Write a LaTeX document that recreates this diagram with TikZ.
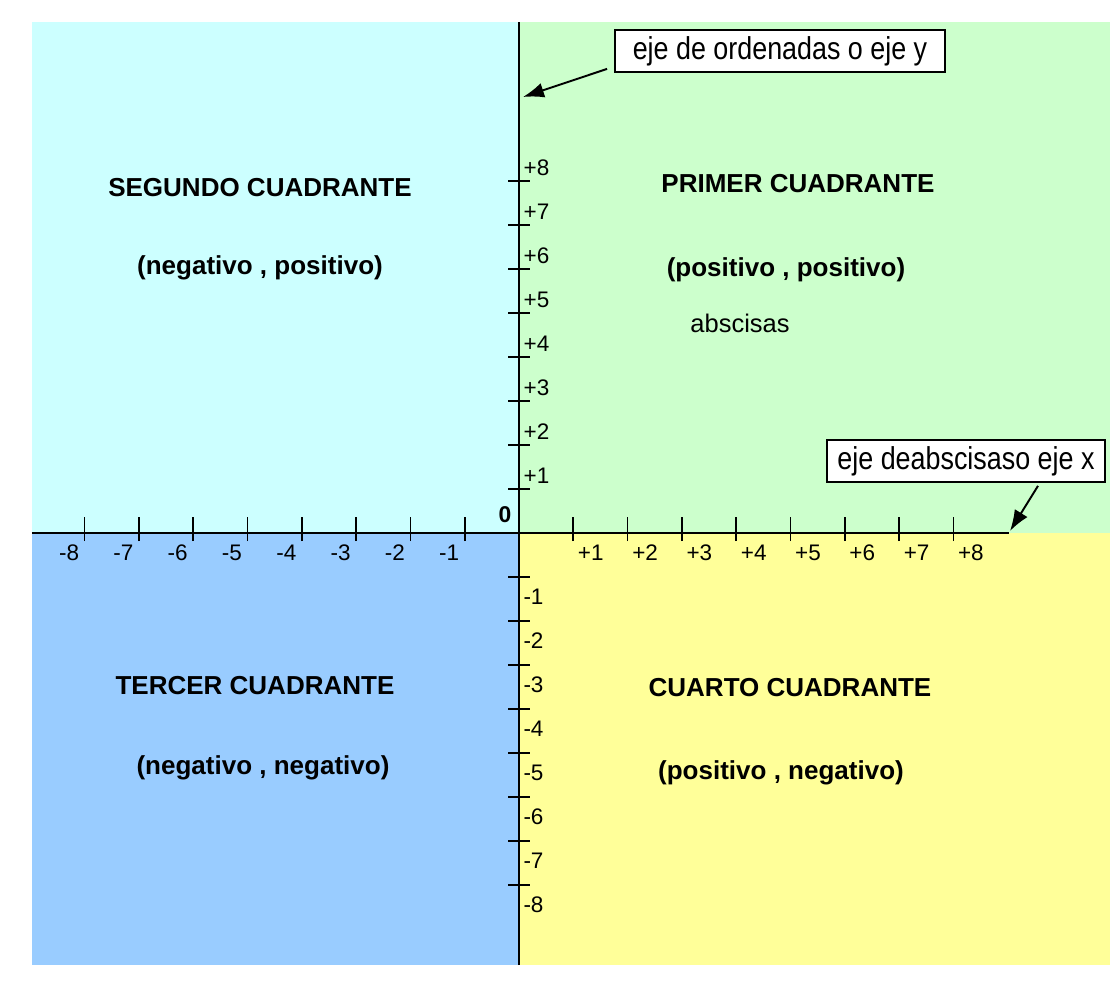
\documentclass[tikz,border=0pt]{standalone}
\usepackage{fontspec}
\setmainfont{Liberation Sans}
\newfontfamily\calloutfont[FakeStretch=0.85]{Liberation Sans}
\usetikzlibrary{arrows.meta}

\definecolor{cuadI}{HTML}{CCFFCC}
\definecolor{cuadII}{HTML}{CCFFFF}
\definecolor{cuadIII}{HTML}{99CCFF}
\definecolor{cuadIV}{HTML}{FFFF99}

\tikzset{
  axisline/.style={line width=1.1pt},
  tickmark/.style={line width=1pt},
  ticklabel/.style={inner sep=0pt, font=\fontsize{12.8}{13}\selectfont},
  quadtitle/.style={inner sep=0pt, font=\fontsize{14.8}{16}\selectfont\bfseries},
  callout/.style={draw, line width=1pt, fill=white, minimum height=0.84cm,
    inner sep=0pt, font=\calloutfont\fontsize{18}{18}\selectfont},
  pointer/.style={line width=1.1pt, -{Latex[length=0.42cm,width=0.3cm]}},
}

\begin{document}
\begin{tikzpicture}
\fill[white] (-10.38,-9.02) rectangle (11.94,10.66);
\useasboundingbox (-10.38,-9.02) rectangle (11.94,10.66);

% quadrants
\fill[cuadII]  (-9.74,0) rectangle (0,10.22);
\fill[cuadI]   (0,0) rectangle (11.82,10.22);
\fill[cuadIII] (-9.74,-8.64) rectangle (0,0);
\fill[cuadIV]  (0,-8.64) rectangle (11.82,0);

% axes
\draw[axisline] (-9.74,0) -- (9.80,0);
\draw[axisline] (0,-8.64) -- (0,10.22);
\node[ticklabel, font=\fontsize{13}{13}\selectfont\bfseries] (origin) at (-0.28,0.36) {0};

% ticks and numbers
\foreach \i in {1,...,8} {
  \draw[tickmark] (\i*1.086,-0.16) -- (\i*1.086,0.32);
  \node[ticklabel] (xpos\i) at (\i*1.086+0.35,-0.40) {+\i};
  \draw[tickmark] (-\i*1.086,-0.16) -- (-\i*1.086,0.32);
  \node[ticklabel] (xneg\i) at (-\i*1.086-0.31,-0.40) {-\i};
  \draw[tickmark] (-0.22,\i*0.88) -- (0.22,\i*0.88);
  \node[ticklabel] (ypos\i) at (0.35,\i*0.88+0.27) {+\i};
  \draw[tickmark] (-0.22,-\i*0.88) -- (0.22,-\i*0.88);
  \node[ticklabel] (yneg\i) at (0.29,-\i*0.88-0.40) {-\i};
}

% quadrant titles
\node[quadtitle] (segundo) at (-5.18,6.90) {SEGUNDO CUADRANTE};
\node[quadtitle] (signosII) at (-5.18,5.30) {(negativo , positivo)};
\node[quadtitle] (primer) at (5.58,6.98) {PRIMER CUADRANTE};
\node[quadtitle] (signosI) at (5.34,5.26) {(positivo , positivo)};
\node[ticklabel, font=\fontsize{14.5}{15}\selectfont] (abscisas) at (4.42,4.20) {abscisas};
\node[quadtitle] (tercer) at (-5.28,-3.06) {TERCER CUADRANTE};
\node[quadtitle] (signosIII) at (-5.12,-4.70) {(negativo , negativo)};
\node[quadtitle] (cuarto) at (5.42,-3.10) {CUARTO CUADRANTE};
\node[quadtitle] (signosIV) at (5.24,-4.80) {(positivo , negativo)};

% axis names
\node[callout, minimum width=6.6cm] (ejey) at (5.22,9.64) {eje de ordenadas o eje y};
\coordinate (puntay) at (0.08,8.72);
\draw[pointer] ([xshift=-0.14cm,yshift=0.08cm]ejey.south west) -- (puntay);

\node[callout, minimum width=5.56cm] (ejex) at (8.94,1.44) {eje deabscisaso eje x};
\coordinate (puntax) at (9.82,0.04);
\draw[pointer] ([xshift=1.44cm,yshift=-0.06cm]ejex.south) -- (puntax);

\end{tikzpicture}
\end{document}
